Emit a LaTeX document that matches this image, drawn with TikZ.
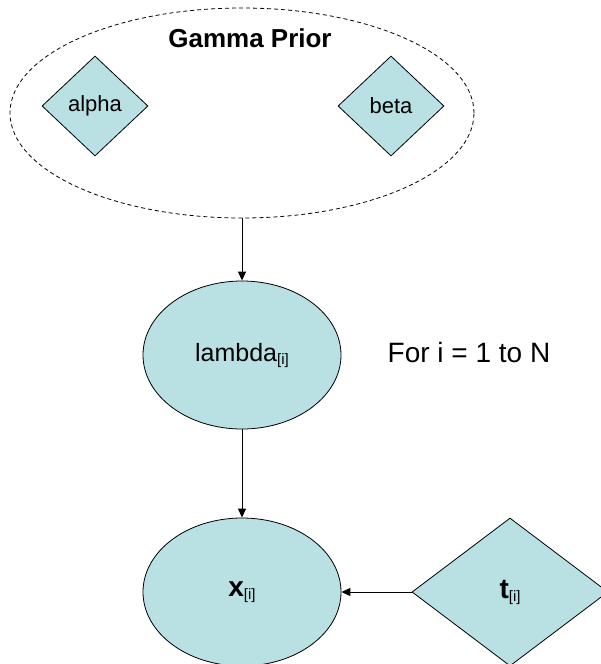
\documentclass[tikz,border=0pt]{standalone}
\usepackage{fontspec}
\setmainfont{Liberation Sans}
\usetikzlibrary{shapes.geometric,arrows.meta}
\definecolor{nodefill}{RGB}{185,224,227}
\newcommand{\idx}{\raisebox{-3pt}{\fontsize{15}{15}\selectfont[i]}}
\begin{document}
\begin{tikzpicture}[x=1pt,y=-1pt,
  prior/.style={diamond, draw, fill=nodefill, inner sep=0pt, line width=0.8pt,
    minimum width=106pt, minimum height=100pt, font=\fontsize{22}{22}\selectfont},
  varnode/.style={ellipse, draw, fill=nodefill, inner sep=0pt, line width=0.8pt,
    minimum width=198pt, minimum height=148pt},
  plate/.style={ellipse, draw, line width=0.8pt, dash pattern=on 4pt off 3pt,
    inner sep=0pt},
  arr/.style={-{Triangle[length=9pt,width=8pt]}, line width=0.9pt}]
\useasboundingbox (0,0) rectangle (600,664);
\node[plate, minimum width=464pt, minimum height=210pt] (gp) at (242,113) {};
\node[font=\bfseries\fontsize{26}{26}\selectfont] (gptitle) at (250,38) {Gamma Prior};
\node[prior] (alpha) at (95,106) {alpha};
\node[prior] (beta) at (391,106) {beta};
\node[varnode, font=\fontsize{25}{25}\selectfont] (lambda) at (242,355) {lambda\idx};
\node[font=\fontsize{28}{28}\selectfont] (fori) at (469,352) {For i = 1 to N};
\node[varnode, font=\fontsize{28}{28}\selectfont] (x) at (242,592) {\textbf{x}\idx};
\node[prior, minimum width=196pt, minimum height=148pt, font=\fontsize{28}{28}\selectfont] (t) at (510,592) {\textbf{t}\idx};
\draw[arr] (gp.south) -- (lambda.north);
\draw[arr] (lambda.south) -- (x.north);
\draw[arr] (t.west) -- (x.east);
\end{tikzpicture}
\end{document}
